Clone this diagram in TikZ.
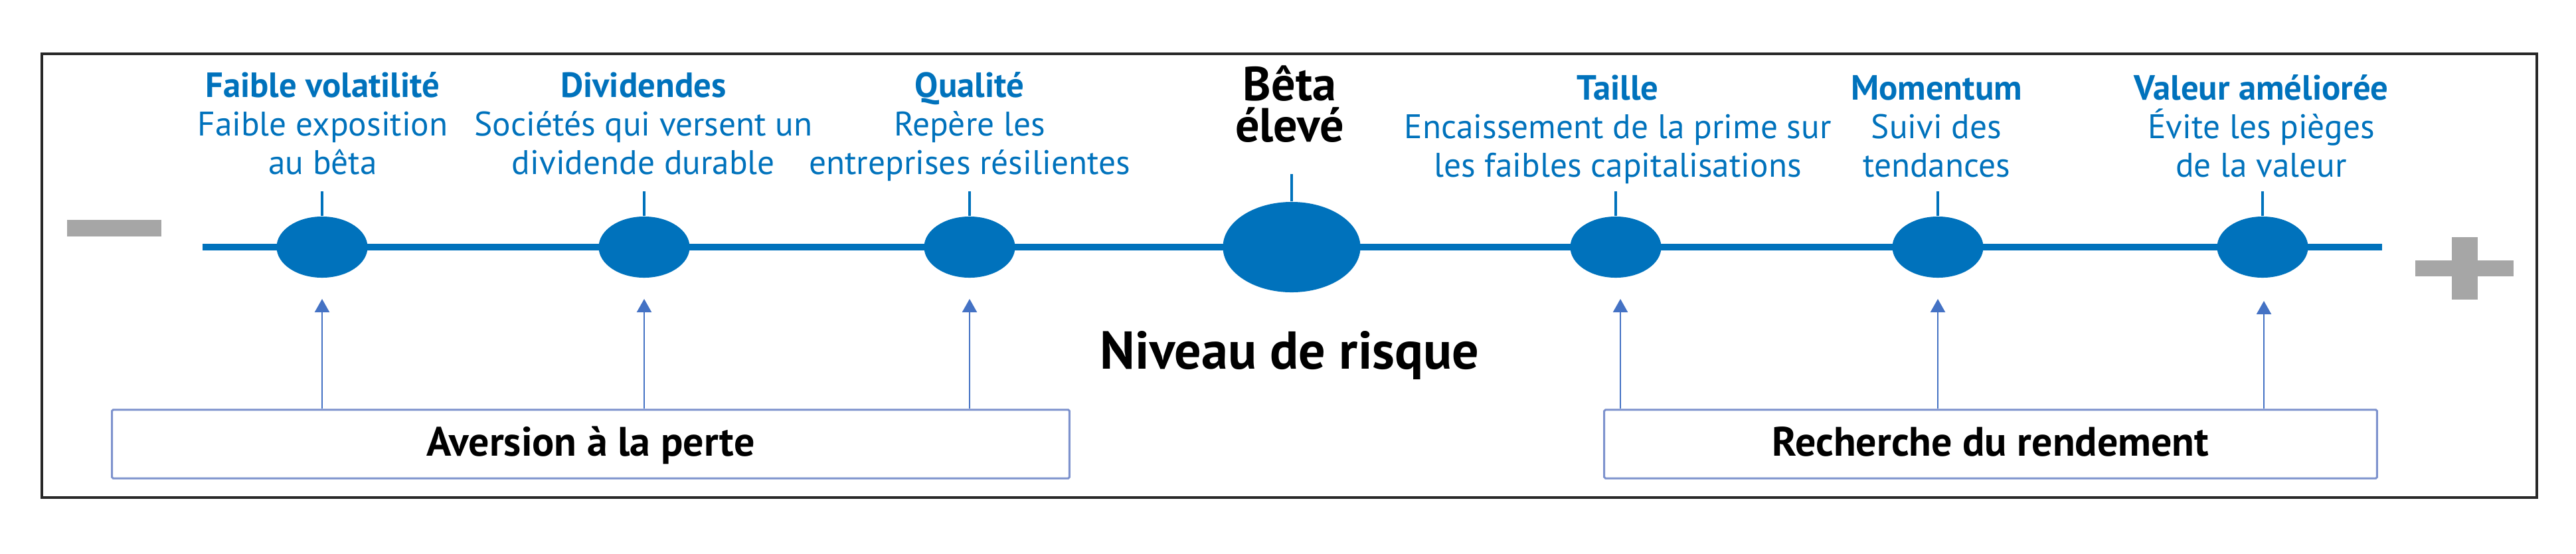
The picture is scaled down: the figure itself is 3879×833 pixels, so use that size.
\documentclass[tikz,border=0pt]{standalone}
\usepackage{fontspec}
\setmainfont{PT Sans}
\usetikzlibrary{arrows.meta,shapes.geometric}
\definecolor{ablue}{RGB}{0,114,188}
\definecolor{arrblue}{RGB}{68,114,196}
\definecolor{boxblue}{RGB}{125,146,205}
\definecolor{sgray}{RGB}{166,166,166}
\definecolor{framec}{RGB}{40,40,40}
\newcommand{\lab}[6]{%
  \node[ttl] (t#1) at (#2,146+#6) {#3};
  \node[dsc] (d#1a) at (#2,204+#6) {#4};
  \node[dsc] (d#1b) at (#2,262+#6) {#5};
}
\begin{document}
\begin{tikzpicture}[x=0.01cm,y=-0.01cm,
  dot/.style={ellipse, fill=ablue, inner sep=0pt, minimum width=1.37cm, minimum height=0.92cm},
  bigdot/.style={ellipse, fill=ablue, inner sep=0pt, minimum width=2.07cm, minimum height=1.36cm},
  ttl/.style={anchor=base, text=ablue, font=\fontsize{15}{18}\selectfont\bfseries, inner sep=0pt},
  dsc/.style={anchor=base, text=ablue, font=\fontsize{14.6}{18}\selectfont, inner sep=0pt},
  big/.style={anchor=base, text=black, inner sep=0pt},
  ticks/.style={draw=ablue, line width=1.1pt},
  axis/.style={draw=ablue, line width=2.85pt},
  arr/.style={draw=arrblue, line width=0.6pt, -{Triangle[length=0.2cm,width=0.22cm]}},
  grpbox/.style={draw=boxblue, line width=0.85pt, rounded corners=0.5pt, minimum height=1.03cm, text height=0.45cm, text depth=0.1cm, font=\fontsize{17.6}{20}\selectfont\bfseries},
  sign/.style={fill=sgray, draw=none}
]
\useasboundingbox (0,0) rectangle (3879,833);
\draw[framec, line width=1.14pt] (63,81) rectangle (3820,749);
% minus and plus
\fill[sign] (101,331) rectangle (243,356);
\fill[sign] (3637,392) rectangle (3785,416);
\fill[sign] (3692,357) rectangle (3731,451);
% axis
\coordinate (axL) at (305,372);
\coordinate (axR) at (3587,372);
\draw[axis] (axL) -- (axR);
% ellipses
\node[dot] (e1) at (485,372) {};
\node[dot] (e2) at (970,372) {};
\node[dot] (e3) at (1460,372) {};
\node[bigdot] (e4) at (1945,372) {};
\node[dot] (e5) at (2433,372) {};
\node[dot] (e6) at (2918,372) {};
\node[dot] (e7) at (3407,372) {};
% ticks
\foreach \i in {1,2,3,5,6,7} {\draw[ticks] (e\i.north) -- ++(0,-37);}
\draw[ticks] (e4.north) -- ++(0,-41);
% labels
\lab{1}{486}{Faible volatilité}{Faible exposition}{au bêta}{0}
\lab{2}{969}{Dividendes}{Sociétés qui versent un}{dividende durable}{0}
\lab{3}{1460}{Qualité}{Repère les}{entreprises résilientes}{0}
\lab{5}{2436}{Taille}{Encaissement de la prime sur}{les faibles capitalisations}{4}
\lab{6}{2916}{Momentum}{Suivi des}{tendances}{4}
\lab{7}{3405}{Valeur améliorée}{Évite les pièges}{de la valeur}{4}
\node[big, align=center, font=\fontsize{20.5}{17.5}\selectfont\bfseries] (beta) at (1942,213) {Bêta\\élevé};
\node[big, font=\fontsize{22.8}{26}\selectfont\bfseries] (niv) at (1942,555) {Niveau de risque};
% boxes
\node[grpbox, minimum width=14.41cm] (box1) at (889.5,668.5) {Aversion à la perte};
\node[grpbox, minimum width=11.63cm] (box2) at (2997.5,668.5) {Recherche du rendement};
% arrows
\coordinate (p1) at (485,450);
\coordinate (p2) at (970,450);
\coordinate (p3) at (1460,450);
\coordinate (p5) at (2440,450);
\coordinate (p6) at (2918,450);
\coordinate (p7) at (3409,453);
\foreach \i in {1,2,3} {\draw[arr] (box1.north -| p\i) -- (p\i);}
\foreach \i in {5,6,7} {\draw[arr] (box2.north -| p\i) -- (p\i);}
\end{tikzpicture}
\end{document}
